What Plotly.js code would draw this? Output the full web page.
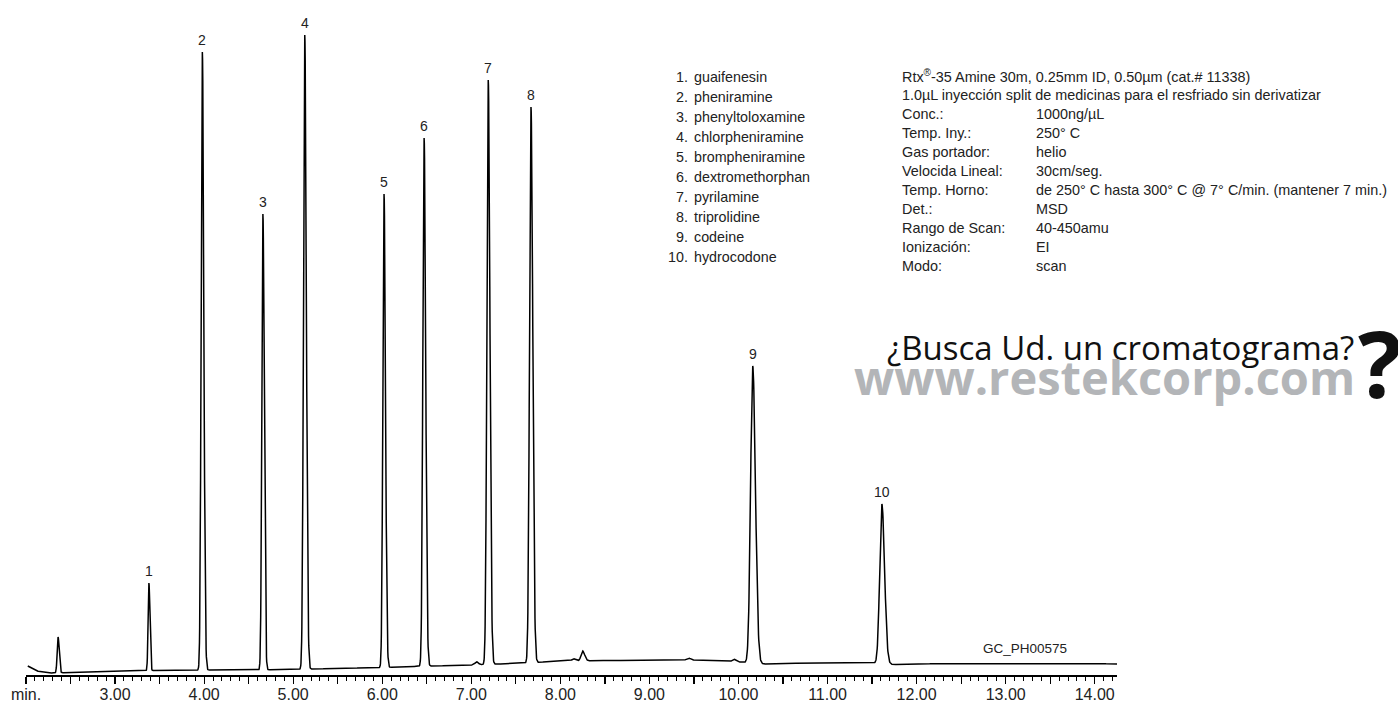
<!DOCTYPE html>
<html><head><meta charset="utf-8">
<script src="https://cdn.plot.ly/plotly-3.0.1.min.js"></script>
<style>html,body{margin:0;padding:0;background:#fff;} #chart{width:1398px;height:706px;}</style>
</head><body><div id="chart"></div>
<script>
// ---- data ----
const peakLabels  = ['', '1', '2', '3', '4', '5', '6', '7', '8', '', '9', '10'];
const peakTimes   = [2.36, 3.38, 3.98, 4.66, 5.13, 6.02, 6.47, 7.19, 7.67, 8.25, 10.16, 11.61];
const peakApex    = [38, 92, 623, 461, 640, 481, 537, 595, 568, 24, 309, 171];
const peakSigma   = [0.010, 0.009, 0.013, 0.012, 0.014, 0.013, 0.014, 0.015, 0.016, 0.018, 0.024, 0.024];
const minorTimes  = [7.06, 8.15, 9.44, 9.95];
const minorHeights= [3, 2, 2, 2.5];
const baselineTimes  = [2.02, 2.12, 2.25, 2.5, 3.0, 3.5, 4.0, 4.5, 5.0, 5.5, 6.0, 6.5, 7.0, 7.5, 8.0, 8.5, 9.0, 9.5, 10.0, 10.3, 10.5, 11.0, 11.5, 11.75, 12.0, 12.5, 13.0, 13.5, 14.0, 14.25];
const baselineLevels = [9, 4, 2, 2.5, 4, 4.5, 5, 5, 5.5, 6.5, 7.5, 9, 10, 11.5, 14, 14.5, 14.5, 15, 13, 11, 11.5, 12, 12, 10.5, 11, 12, 12, 11.5, 11.5, 11];
const tickMajor = [2, 3, 4, 5, 6, 7, 8, 9, 10, 11, 12, 13, 14];
const tickMajorText = ['min.', '3.00', '4.00', '5.00', '6.00', '7.00', '8.00', '9.00', '10.00', '11.00', '12.00', '13.00', '14.00'];
const compoundNumbers = ['1.', '2.', '3.', '4.', '5.', '6.', '7.', '8.', '9.', '10.'];
const compoundNames = ['guaifenesin', 'pheniramine', 'phenyltoloxamine', 'chlorpheniramine', 'brompheniramine', 'dextromethorphan', 'pyrilamine', 'triprolidine', 'codeine', 'hydrocodone'];
const conditionHeader = ['Rtx<sup>®</sup>-35 Amine 30m, 0.25mm ID, 0.50µm (cat.# 11338)', '1.0µL inyección split de medicinas para el resfriado sin derivatizar'];
const conditionLabels = ['Conc.:', 'Temp. Iny.:', 'Gas portador:', 'Velocida Lineal:', 'Temp. Horno:', 'Det.:', 'Rango de Scan:', 'Ionización:', 'Modo:'];
const conditionValues = ['1000ng/µL', '250° C', 'helio', '30cm/seg.', 'de 250° C hasta 300° C @ 7° C/min. (mantener 7 min.)', 'MSD', '40-450amu', 'EI', 'scan'];
const promoLine1 = '¿Busca Ud. un cromatograma?';
const promoLine2 = 'www.restekcorp.com';
const chartCode = 'GC_PH00575';

// ---- build the trace from the peak table ----
function baselineAt(t) {
  if (t <= baselineTimes[0]) return baselineLevels[0];
  for (let i = 1; i < baselineTimes.length; i++) {
    if (t <= baselineTimes[i]) {
      const f = (t - baselineTimes[i-1]) / (baselineTimes[i] - baselineTimes[i-1]);
      return baselineLevels[i-1] + f * (baselineLevels[i] - baselineLevels[i-1]);
    }
  }
  return baselineLevels[baselineLevels.length - 1];
}
const xs = [], ys = [];
const t0 = baselineTimes[0], t1 = baselineTimes[baselineTimes.length - 1];
for (let k = 0; ; k++) {
  const t = t0 + k * 0.0025;
  if (t > t1 + 1e-9) break;
  let y = baselineAt(t);
  peakTimes.forEach((pt, i) => {
    const h = peakApex[i] - baselineAt(pt);
    const s = t < pt ? peakSigma[i] : peakSigma[i] * 1.25;
    y += h * Math.exp(-0.5 * Math.pow((t - pt) / s, 2));
  });
  minorTimes.forEach((pt, i) => {
    y += minorHeights[i] * Math.exp(-0.5 * Math.pow((t - pt) / 0.02, 2));
  });
  xs.push(t); ys.push(y);
}

// ---- layout helpers (pixel -> paper) ----
const W = 1398, H = 706;
const M = {l: 26, r: 281, t: 0, b: 31};
const PW = W - M.l - M.r, PH = H - M.t - M.b;
const px = v => (v - M.l) / PW;
const py = v => (M.t + PH - v) / PH;
const SANS = 'Liberation Sans, Arial, Helvetica, sans-serif';

// ticks at every half minute, labels at whole minutes
const tickVals = [], tickText = [];
for (let i = 0; i < tickMajor.length; i++) {
  tickVals.push(tickMajor[i]); tickText.push(tickMajorText[i]);
  if (i < tickMajor.length - 1) { tickVals.push(tickMajor[i] + 0.5); tickText.push(' '); }
}

const annotations = [];
peakTimes.forEach((t, i) => {
  if (!peakLabels[i]) return;
  annotations.push({x: t, y: peakApex[i], xref: 'x', yref: 'y', text: peakLabels[i], showarrow: false,
    yanchor: 'bottom', yshift: 2, font: {family: SANS, size: 14, color: '#222'}});
});
compoundNames.forEach((name, i) => {
  const yy = py(77 + i * 20);
  annotations.push({x: px(690), y: yy, xref: 'paper', yref: 'paper', text: compoundNumbers[i], showarrow: false,
    xanchor: 'right', yanchor: 'middle', font: {family: SANS, size: 14.3, color: '#222'}});
  annotations.push({x: px(692), y: yy, xref: 'paper', yref: 'paper', text: name, showarrow: false,
    xanchor: 'left', yanchor: 'middle', font: {family: SANS, size: 14.3, color: '#222'}});
});
conditionHeader.forEach((txt, i) => {
  annotations.push({x: px(900), y: py(75.5 + i * 19), xref: 'paper', yref: 'paper', text: txt, showarrow: false,
    xanchor: 'left', yanchor: 'middle', font: {family: SANS, size: 14.4, color: '#222'}});
});
conditionLabels.forEach((lab, i) => {
  const yy = py(75.5 + (i + 2) * 19);
  annotations.push({x: px(900), y: yy, xref: 'paper', yref: 'paper', text: lab, showarrow: false,
    xanchor: 'left', yanchor: 'middle', font: {family: SANS, size: 14.4, color: '#222'}});
  annotations.push({x: px(1034), y: yy, xref: 'paper', yref: 'paper', text: conditionValues[i], showarrow: false,
    xanchor: 'left', yanchor: 'middle', font: {family: SANS, size: 14.4, color: '#222'}});
});
annotations.push({x: px(1356), y: py(347), xref: 'paper', yref: 'paper', text: promoLine1, showarrow: false,
  xanchor: 'right', yanchor: 'middle', font: {family: 'Open Sans, sans-serif', size: 33, color: '#111'}});
annotations.push({x: px(1357), y: py(377), xref: 'paper', yref: 'paper', text: '<b>' + promoLine2 + '</b>', showarrow: false,
  xanchor: 'right', yanchor: 'middle', font: {family: 'Open Sans, sans-serif', size: 47, color: '#b3b5b8'}});
annotations.push({x: px(1356), y: py(362), xref: 'paper', yref: 'paper', text: '<b>?</b>', showarrow: false,
  xanchor: 'left', yanchor: 'middle', font: {family: 'Open Sans, sans-serif', size: 92, color: '#111'}});
annotations.push({x: px(1025), y: py(648), xref: 'paper', yref: 'paper', text: chartCode, showarrow: false,
  xanchor: 'center', yanchor: 'middle', font: {family: SANS, size: 13.5, color: '#222'}});

const trace = {x: xs, y: ys, type: 'scatter', mode: 'lines', line: {color: '#000', width: 1.5}, hoverinfo: 'skip'};

const layout = {
  width: W, height: H, margin: M, paper_bgcolor: '#fff', plot_bgcolor: '#fff', showlegend: false,
  xaxis: {range: [2.0, 14.25], showline: true, linecolor: '#000', linewidth: 1.5, ticks: 'outside',
    tickmode: 'array', tickvals: tickVals, ticktext: tickText, ticklen: 7, tickwidth: 1.2, tickcolor: '#000',
    ticklabelstandoff: -3,
    minor: {tickmode: 'linear', tick0: 2, dtick: 0.1, ticks: 'outside', ticklen: 4, tickwidth: 1, tickcolor: '#000'},
    showgrid: false, zeroline: false, tickfont: {family: SANS, size: 16, color: '#222'}},
  yaxis: {visible: false, range: [0, PH], showgrid: false, zeroline: false},
  annotations: annotations
};
Plotly.newPlot('chart', [trace], layout, {staticPlot: true});
</script></body></html>
